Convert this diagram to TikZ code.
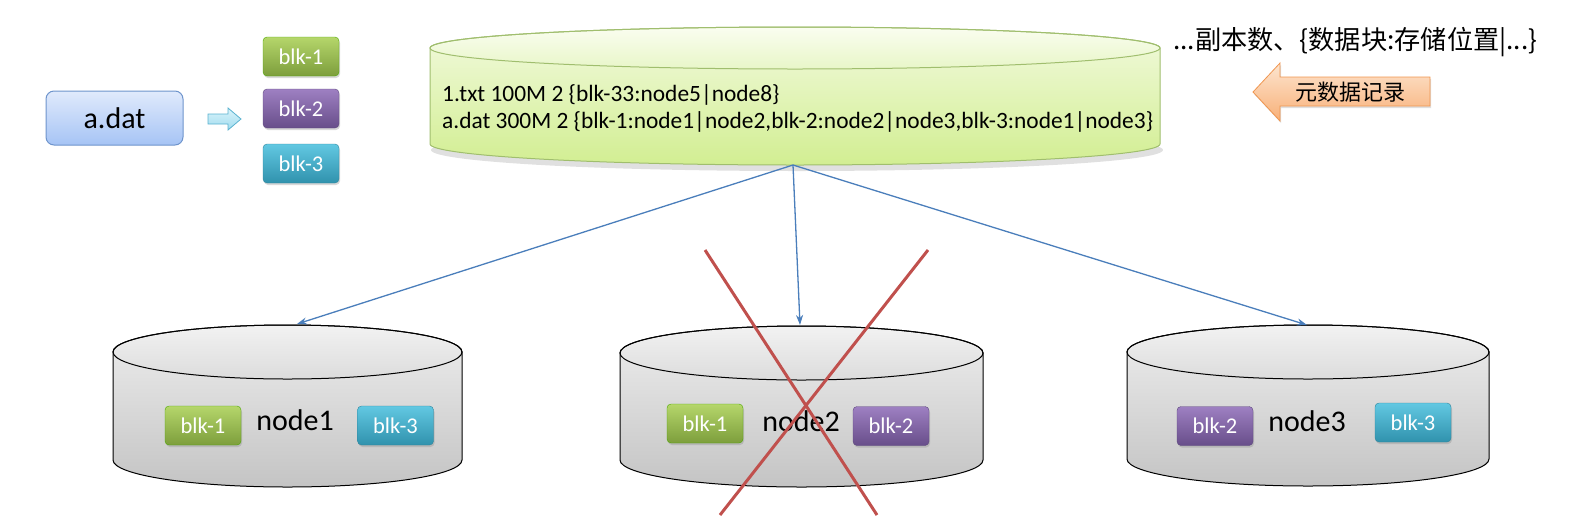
\documentclass[tikz,border=0pt]{standalone}
\usepackage{fontspec}
\setmainfont{Carlito}
\newfontfamily\cjk{Noto Sans CJK SC}
\usetikzlibrary{shadows,arrows.meta}
\definecolor{blueln}{HTML}{4A7EBB}
\definecolor{redx}{HTML}{C0504D}
\tikzset{
  blkbox/.style={rounded corners=4pt, minimum width=76pt, minimum height=39pt, inner sep=0pt,
    text=white, font=\fontsize{22.5}{22.5}\selectfont,
    drop shadow={opacity=0.3, shadow xshift=1pt, shadow yshift=-2pt}},
  gblk/.style={blkbox, draw=black!10!green!40!olive, top color={rgb,255:red,181;green,214;blue,107}, bottom color={rgb,255:red,125;green,158;blue,60}},
  pblk/.style={blkbox, draw={rgb,255:red,95;green,74;blue,126}, top color={rgb,255:red,158;green,128;blue,194}, bottom color={rgb,255:red,104;green,78;blue,138}},
  cblk/.style={blkbox, draw={rgb,255:red,49;green,133;blue,156}, top color={rgb,255:red,98;green,200;blue,226}, bottom color={rgb,255:red,48;green,146;blue,173}},
  flow/.style={draw=blueln, line width=1.3pt, -{Stealth[length=10pt,width=7pt]}},
  crossln/.style={draw=redx, line width=3pt},
  biglbl/.style={font=\fontsize{30}{30}\selectfont, inner sep=0pt},
  holder/.style={inner sep=0pt, outer sep=0pt},
}
% cx, rx, ytop, ybot, ry, body top, body bottom, lid top, lid bottom
\newcommand\mydisk[9]{%
  \shade[top color=#6, bottom color=#7]
    ({#1-#2},{-#3}) -- ({#1-#2},{-#4}) arc[start angle=180,end angle=360,x radius=#2,y radius=#5]
    -- ({#1+#2},{-#3}) arc[start angle=0,end angle=180,x radius=#2,y radius=#5] -- cycle;
  \shade[top color=#8, bottom color=#9] (#1,{-#3}) ellipse[x radius=#2, y radius=#5];
}
\newcommand\mydiskline[6]{%
  \draw[#6]
    ({#1-#2},{-#3}) -- ({#1-#2},{-#4}) arc[start angle=180,end angle=360,x radius=#2,y radius=#5]
    -- ({#1+#2},{-#3}) arc[start angle=0,end angle=180,x radius=#2,y radius=#5] -- cycle;
  \draw[#6] (#1,{-#3}) ellipse[x radius=#2, y radius=#5];
}
\begin{document}
\begin{tikzpicture}[x=1pt,y=1pt]
\useasboundingbox (0,0) rectangle (1571,-515);

% ---------- top metadata cylinder ----------
\fill[black, opacity=0.12] (797,-150) ellipse[x radius=366, y radius=21];
\mydisk{795}{365}{48}{144}{21}{{rgb,255:red,242;green,250;blue,222}}{{rgb,255:red,210;green,238;blue,146}}{{rgb,255:red,250;green,253;blue,240}}{{rgb,255:red,232;green,246;blue,200}}
\mydiskline{795}{365}{48}{144}{21}{draw={rgb,255:red,160;green,190;blue,110}, line width=1pt}
\node[holder, minimum width=730pt, minimum height=138pt] (metadb) at (795,-96) {};
\node[anchor=base west, inner sep=0pt, font=\fontsize{23.4}{23.4}\selectfont] (l1) at (442,-101) {1.txt 100M 2 \{blk-33:node5|node8\}};
\node[anchor=base west, inner sep=0pt, font=\fontsize{23.4}{23.4}\selectfont] (l2) at (442,-128) {a.dat 300M 2 \{blk-1:node1|node2,blk-2:node2|node3,blk-3:node1|node3\}};

% ---------- title text ----------
\node[anchor=west, inner sep=0pt, font=\cjk\fontsize{26.2}{26.2}\selectfont] (title) at (1173,-42) {...副本数、\{数据块:存储位置|...\}};

% ---------- orange arrow ----------
\shade[top color={rgb,255:red,253;green,229;blue,207}, bottom color={rgb,255:red,248;green,176;blue,120},
  drop shadow={opacity=0.25, shadow xshift=1pt, shadow yshift=-2pt}]
  (1253,-92) -- (1280,-63) -- (1280,-77) -- (1430,-77) -- (1430,-106) -- (1280,-106) -- (1280,-121) -- cycle;
\draw[draw={rgb,255:red,240;green,150;blue,80}, line width=0.8pt]
  (1253,-92) -- (1280,-63) -- (1280,-77) -- (1430,-77) -- (1430,-106) -- (1280,-106) -- (1280,-121) -- cycle;
\node[inner sep=0pt, font=\cjk\fontsize{22}{22}\selectfont] (metarec) at (1350,-92) {元数据记录};

% ---------- a.dat and split ----------
\node[biglbl, draw={rgb,255:red,110;green,148;blue,204}, line width=1pt, rounded corners=8pt,
  minimum width=137pt, minimum height=54pt,
  top color={rgb,255:red,224;green,234;blue,252}, bottom color={rgb,255:red,166;green,196;blue,245}] (adat) at (114.5,-118) {a.dat};
\shade[top color={rgb,255:red,218;green,244;blue,251}, bottom color={rgb,255:red,160;green,219;blue,238}]
  (208,-114) -- (228,-114) -- (228,-108) -- (241,-119) -- (228,-130) -- (228,-124) -- (208,-124) -- cycle;
\draw[draw={rgb,255:red,90;green,178;blue,208}, line width=0.8pt]
  (208,-114) -- (228,-114) -- (228,-108) -- (241,-119) -- (228,-130) -- (228,-124) -- (208,-124) -- cycle;
\node[gblk] (s1) at (301,-56.5) {blk-1};
\node[pblk] (s2) at (301,-108.5) {blk-2};
\node[cblk] (s3) at (301,-163.5) {blk-3};

% ---------- data node cylinders ----------
\mydisk{287.5}{174.5}{352}{460}{27}{{rgb,255:red,238;green,238;blue,238}}{{rgb,255:red,196;green,196;blue,196}}{{rgb,255:red,242;green,242;blue,242}}{{rgb,255:red,220;green,220;blue,220}}
\mydiskline{287.5}{174.5}{352}{460}{27}{draw=black, line width=1pt}
\mydisk{801.5}{181.5}{353}{460}{27}{{rgb,255:red,238;green,238;blue,238}}{{rgb,255:red,196;green,196;blue,196}}{{rgb,255:red,242;green,242;blue,242}}{{rgb,255:red,220;green,220;blue,220}}
\mydiskline{801.5}{181.5}{353}{460}{27}{draw=black, line width=1pt}
\mydisk{1308}{181}{352}{459}{27}{{rgb,255:red,238;green,238;blue,238}}{{rgb,255:red,196;green,196;blue,196}}{{rgb,255:red,242;green,242;blue,242}}{{rgb,255:red,220;green,220;blue,220}}
\mydiskline{1308}{181}{352}{459}{27}{draw=black, line width=1pt}
\node[holder, minimum width=349pt, minimum height=162pt] (disk1) at (287.5,-406) {};
\node[holder, minimum width=363pt, minimum height=161pt] (disk2) at (801.5,-406.5) {};
\node[holder, minimum width=362pt, minimum height=161pt] (disk3) at (1308,-405.5) {};

\node[biglbl] (n1) at (295,-420) {node1};
\node[gblk] (n1b1) at (203,-425.5) {blk-1};
\node[cblk] (n1b3) at (395.5,-425.5) {blk-3};

\node[biglbl] (n2) at (801,-421) {node2};
\node[gblk] (n2b1) at (705,-423.5) {blk-1};
\node[pblk] (n2b2) at (891,-426) {blk-2};

\node[biglbl] (n3) at (1307,-421) {node3};
\node[pblk] (n3b2) at (1215,-426) {blk-2};
\node[cblk] (n3b3) at (1413,-422.5) {blk-3};

% ---------- connectors ----------
\coordinate (src) at ([xshift=-2pt]metadb.south);
\draw[flow] (src) -- ([xshift=9.5pt,yshift=1pt]disk1.north);
\draw[flow] (src) -- ([xshift=-1.5pt,yshift=1pt]disk2.north);
\draw[flow] (src) -- ([xshift=-1pt]disk3.north);

% ---------- red cross ----------
\coordinate (xa) at (705,-250);
\coordinate (xb) at (877,-515);
\coordinate (xc) at (928,-250);
\coordinate (xd) at (720,-515);
\draw[crossln] (xa) -- (xb);
\draw[crossln] (xc) -- (xd);
\end{tikzpicture}
\end{document}
